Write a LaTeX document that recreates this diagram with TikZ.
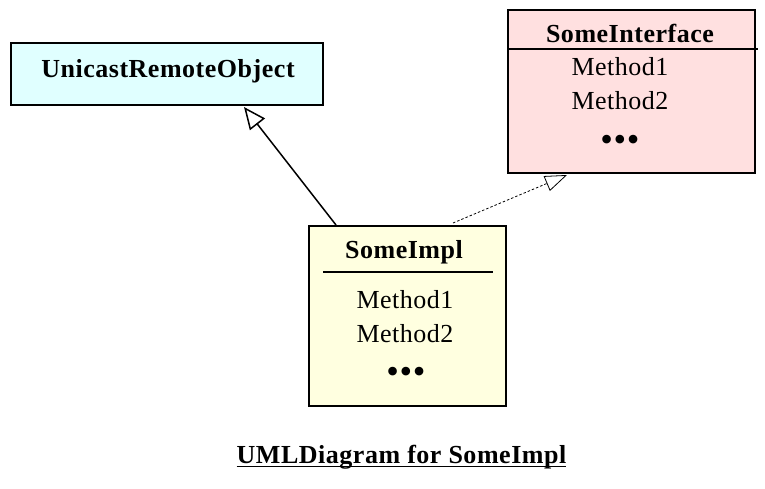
\documentclass[tikz,border=0pt]{standalone}
\usepackage{fontspec}
\setmainfont{Liberation Serif}
\newfontfamily\umlfont[LetterSpace=2]{Liberation Serif}
\usetikzlibrary{arrows.meta,calc}
\definecolor{cyanfill}{HTML}{E0FFFF}
\definecolor{pinkfill}{HTML}{FFE0E0}
\definecolor{yellowfill}{HTML}{FFFFE0}
\tikzset{
  classbox/.style={draw=black, line width=2pt, rectangle, inner sep=0pt},
  boldtxt/.style={font=\umlfont\fontsize{26}{26}\selectfont\bfseries, anchor=base, inner sep=0pt},
  methodtxt/.style={font=\umlfont\fontsize{26}{26}\selectfont, anchor=base, inner sep=0pt},
  dotstxt/.style={font=\umlfont\fontsize{36}{36}\selectfont, inner sep=0pt},
  genarrow/.style={line width=1.5pt, -{Triangle[open, length=22pt, width=19pt, line width=1.5pt]}},
  realarrow/.style={line width=0.8pt, dash pattern=on 2.5pt off 2pt, -{Triangle[open, length=22pt, width=16pt, line width=0.8pt, sep=0pt]}},
  sepline/.style={line width=2pt}
}
\begin{document}
\begin{tikzpicture}[x=1pt,y=-1pt]
\useasboundingbox (0,0) rectangle (765,489);
% boxes
\node[classbox, fill=cyanfill, minimum width=312pt, minimum height=62pt] (uro) at (167,74) {};
\node[classbox, fill=pinkfill, minimum width=247pt, minimum height=163pt] (iface) at (631.5,91.5) {};
\node[classbox, fill=yellowfill, minimum width=197pt, minimum height=180pt] (impl) at (407.5,316) {};
% separators
\coordinate (ifl) at ($(iface.north west)+(0,40)$);
\coordinate (ifr) at ($(iface.north east)+(2,40)$);
\draw[sepline] (ifl) -- (ifr);
\coordinate (iml) at ($(impl.north west)+(15,47)$);
\coordinate (imr) at ($(impl.north east)+(-14,47)$);
\draw[sepline] (iml) -- (imr);
% texts
\node[boldtxt] (urot) at (168,78) {UnicastRemoteObject};
\node[boldtxt] (ifacet) at (630,43) {SomeInterface};
\node[methodtxt] (ifm1) at (620,76) {Method1};
\node[methodtxt] (ifm2) at (620,110) {Method2};
\node[dotstxt] (ifdots) at (620,143) {•••};
\node[boldtxt] (implt) at (404,258) {SomeImpl};
\node[methodtxt] (imm1) at (405,308) {Method1};
\node[methodtxt] (imm2) at (405,342) {Method2};
\node[dotstxt] (imdots) at (406,375) {•••};
\node[boldtxt] (title) at (401.5,463) {UMLDiagram for SomeImpl};
\draw[line width=1.5pt] ($(title.base west)+(0,3.5)$) -- ($(title.base east)+(0,3.5)$);
% connectors
\coordinate (a1s) at ($(impl.north west)+(28,0)$);
\coordinate (a1e) at ($(uro.south west)+(234,1)$);
\draw[genarrow] (a1s) -- (a1e);
\coordinate (a2s) at ($(impl.north west)+(145,-2)$);
\coordinate (a2e) at ($(iface.south west)+(60,1)$);
\draw[realarrow] (a2s) -- (a2e);
\end{tikzpicture}
\end{document}
